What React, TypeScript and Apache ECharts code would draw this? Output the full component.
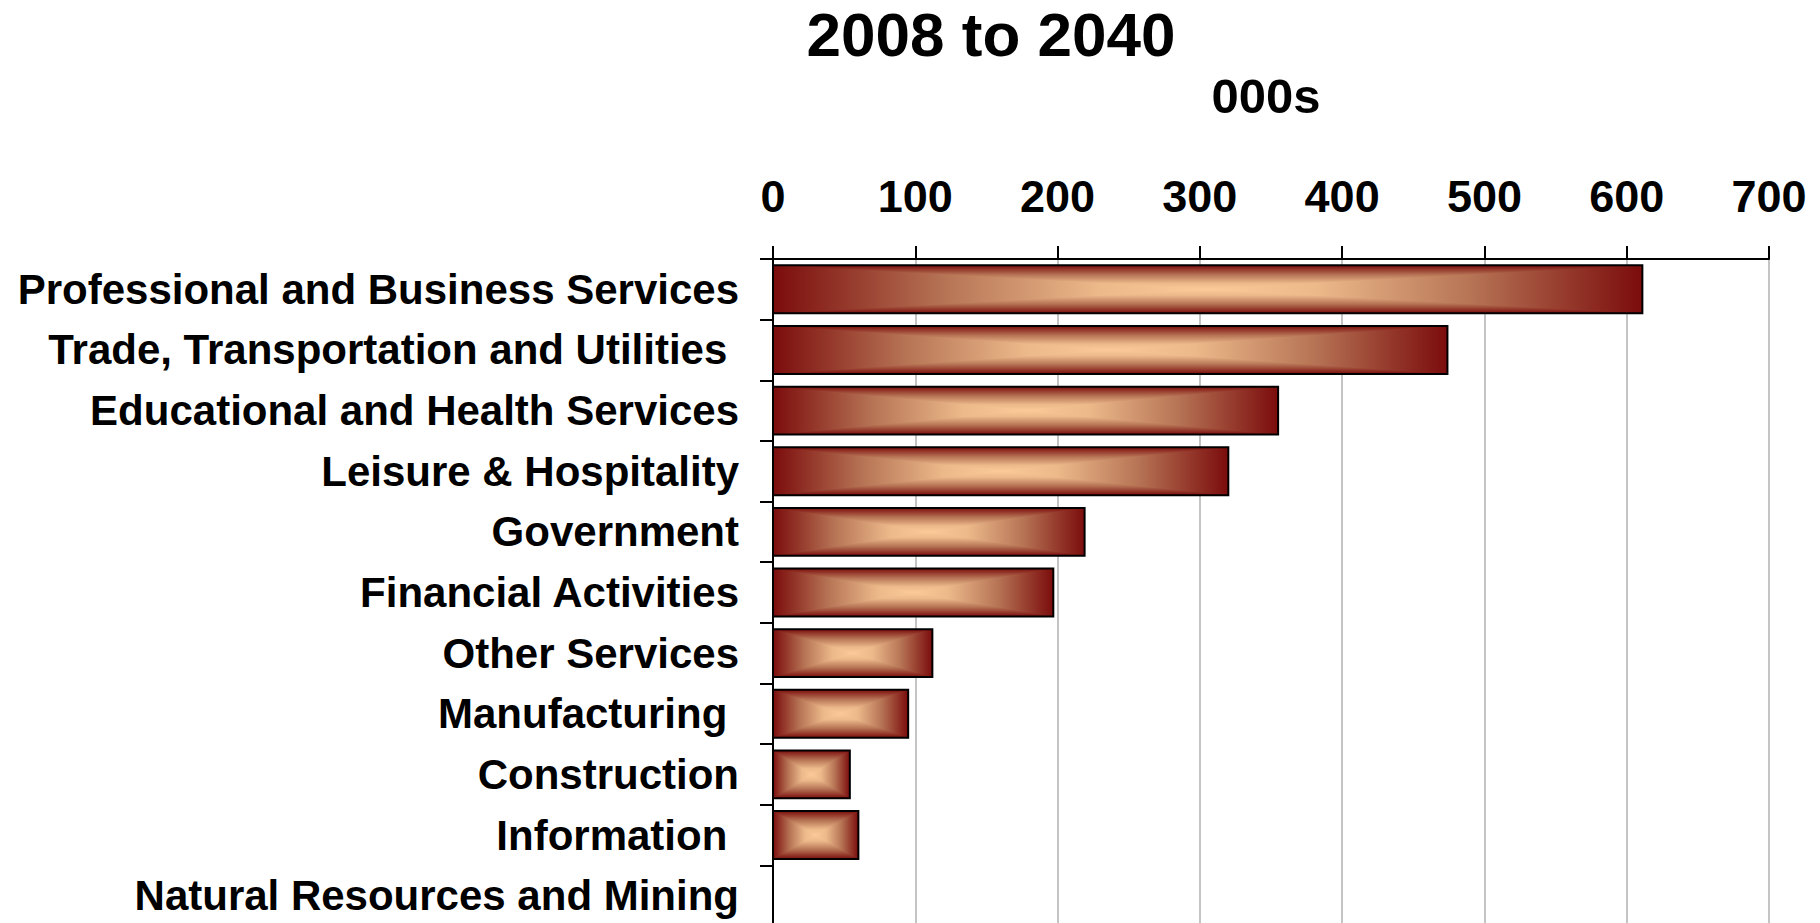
import React, { useEffect, useRef } from "react";
import * as echarts from "echarts";

const categories = [
  "Professional and Business Services",
  "Trade, Transportation and Utilities ",
  "Educational and Health Services",
  "Leisure & Hospitality",
  "Government",
  "Financial Activities",
  "Other Services",
  "Manufacturing ",
  "Construction",
  "Information ",
  "Natural Resources and Mining",
];
const values = [611, 474, 355, 320, 219, 197, 112, 95, 54, 60, 0];
const xTicks = { min: 0, max: 700, interval: 100 };
const titleText = "2008 to 2040";
const unitText = "000s";

const DARK = "#7b0c0c";
const LIGHT = "#fbca98";
const MID1 = "#b77556";
const MID2 = "#ecb98a";

const hStops = [
  { offset: 0, color: DARK },
  { offset: 0.2, color: MID1 },
  { offset: 0.375, color: MID2 },
  { offset: 0.5, color: LIGHT },
  { offset: 0.625, color: MID2 },
  { offset: 0.8, color: MID1 },
  { offset: 1, color: DARK },
];
const vStopsDown = [
  { offset: 0, color: DARK },
  { offset: 0.4, color: MID1 },
  { offset: 0.75, color: MID2 },
  { offset: 1, color: LIGHT },
];
const vStopsUp = [
  { offset: 0, color: LIGHT },
  { offset: 0.25, color: MID2 },
  { offset: 0.6, color: MID1 },
  { offset: 1, color: DARK },
];

const FONT = '"Liberation Sans", Arial, sans-serif';

export default function App() {
  const ref = useRef<HTMLDivElement>(null);
  useEffect(() => {
    document.body.style.margin = "0";
    const chart = echarts.init(ref.current!, null, { renderer: "svg" });
    const renderItem = (params: any, api: any) => {
      const v = api.value(0);
      const c = api.value(1);
      if (!v) return { type: "group", children: [] };
      const s = api.coord([0, c]);
      const e = api.coord([v, c]);
      const band = api.size([0, 1])[1];
      const h = band * 0.79;
      const x0 = s[0];
      const x1 = e[0];
      const y0 = s[1] - h / 2;
      const y1 = s[1] + h / 2;
      const cx = (x0 + x1) / 2;
      const cy = s[1];
      return {
        type: "group",
        children: [
          {
            type: "rect",
            shape: { x: x0, y: y0, width: x1 - x0, height: h },
            style: {
              fill: { type: "linear", x: 0, y: 0, x2: 1, y2: 0, colorStops: hStops },
            },
          },
          {
            type: "polygon",
            shape: { points: [[x0, y0], [x1, y0], [cx, cy]] },
            style: {
              fill: { type: "linear", x: 0, y: 0, x2: 0, y2: 1, colorStops: vStopsDown },
            },
          },
          {
            type: "polygon",
            shape: { points: [[x0, y1], [x1, y1], [cx, cy]] },
            style: {
              fill: { type: "linear", x: 0, y: 0, x2: 0, y2: 1, colorStops: vStopsUp },
            },
          },
          {
            type: "rect",
            shape: { x: x0, y: y0, width: x1 - x0, height: h },
            style: { fill: "none", stroke: "#000", lineWidth: 2 },
          },
        ],
      };
    };
    chart.setOption({
      animation: false,
      backgroundColor: "#fff",
      textStyle: { fontFamily: FONT },
      grid: {
        left: 773,
        top: 259,
        width: 996,
        height: 667,
        containLabel: false,
        outerBoundsMode: "none",
      },
      xAxis: {
        type: "value",
        position: "top",
        min: xTicks.min,
        max: xTicks.max,
        interval: xTicks.interval,
        axisLine: { show: true, lineStyle: { color: "#000", width: 2 } },
        axisTick: { show: true, inside: false, length: 13, lineStyle: { color: "#000", width: 2 } },
        splitLine: { show: true, lineStyle: { color: "#c4c4c4", width: 2 } },
        axisLabel: {
          fontSize: 45,
          fontWeight: "bold",
          color: "#000",
          fontFamily: FONT,
          margin: 40,
          lineHeight: 45,
        },
      },
      yAxis: {
        type: "category",
        inverse: true,
        data: categories,
        axisLine: { show: true, lineStyle: { color: "#000", width: 2 } },
        axisTick: { show: true, inside: false, length: 13, lineStyle: { color: "#000", width: 2 } },
        splitLine: { show: false },
        axisLabel: {
          fontSize: 42,
          fontWeight: "bold",
          color: "#000",
          fontFamily: FONT,
          margin: 34,
          interval: 0,
        },
      },
      graphic: [
        {
          type: "text",
          x: 991,
          y: 34,
          style: {
            text: titleText,
            font: `bold 62px ${FONT}`,
            fill: "#000",
            textAlign: "center",
            textVerticalAlign: "middle",
          },
        },
        {
          type: "text",
          x: 1266,
          y: 96,
          style: {
            text: unitText,
            font: `bold 49px ${FONT}`,
            fill: "#000",
            textAlign: "center",
            textVerticalAlign: "middle",
          },
        },
      ],
      series: [
        {
          type: "custom",
          renderItem,
          encode: { x: 0, y: 1 },
          data: values.map((v, i) => [v, i]),
          clip: false,
        },
      ],
    });
    return () => chart.dispose();
  }, []);
  return <div ref={ref} style={{ width: 1820, height: 923 }} />;
}
